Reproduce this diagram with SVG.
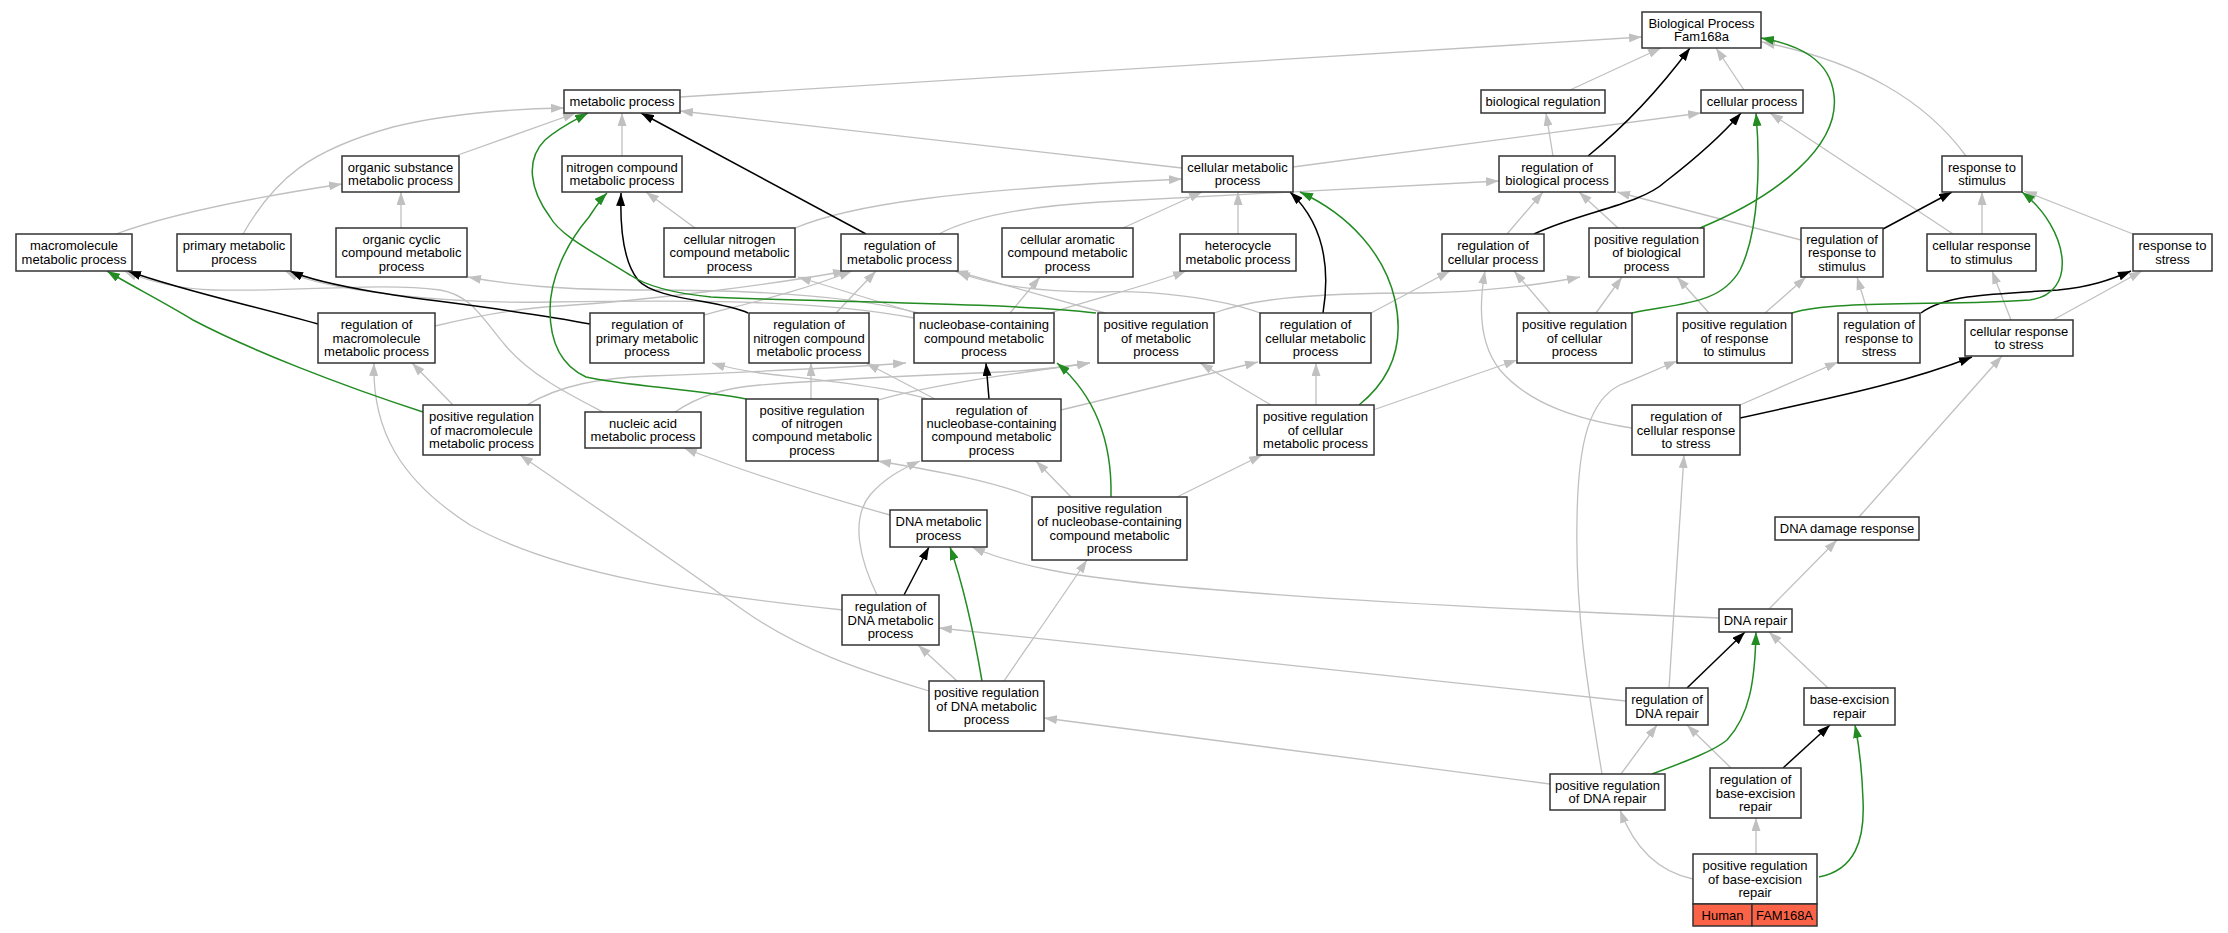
<svg xmlns="http://www.w3.org/2000/svg" width="2228" height="933" viewBox="0 0 2228 933">
<style>
.n rect{fill:#fff;stroke:#333;stroke-width:1.5}
.n rect.c{fill:#fa6347}
text{font-family:"Liberation Sans",Arial,sans-serif;font-size:13px;text-anchor:middle;fill:#000}
.e path{fill:none}
.e .g{stroke:#c0c0c0;stroke-width:1.3;marker-end:url(#ag)}
.e .b{stroke:#000;stroke-width:1.5;marker-end:url(#ab)}
.e .r{stroke:#228b22;stroke-width:1.5;marker-end:url(#ar)}
</style>
<defs>
<marker id="ag" viewBox="0 0 13 9" refX="13" refY="4.5" markerWidth="13" markerHeight="9" orient="auto" markerUnits="userSpaceOnUse"><path d="M0,0 L13,4.5 L0,9 z" fill="#c0c0c0"/></marker>
<marker id="ab" viewBox="0 0 13 9" refX="13" refY="4.5" markerWidth="13" markerHeight="9" orient="auto" markerUnits="userSpaceOnUse"><path d="M0,0 L13,4.5 L0,9 z" fill="#000"/></marker>
<marker id="ar" viewBox="0 0 13 9" refX="13" refY="4.5" markerWidth="13" markerHeight="9" orient="auto" markerUnits="userSpaceOnUse"><path d="M0,0 L13,4.5 L0,9 z" fill="#228b22"/></marker>
</defs>
<rect width="2228" height="933" fill="#fff"/>
<g id="edges" class="e">
<path class="g" d="M680,97 L1642,37"/>
<path class="g" d="M1570,90 L1661,48"/>
<path class="g" d="M1744,90 L1716,48"/>
<path class="g" d="M1966,156 C1925,100 1860,62 1762,42"/>
<path class="g" d="M1182,168 L680,111"/>
<path class="g" d="M1293,167 L1701,113"/>
<path class="g" d="M1553,156 L1546,113"/>
<path class="g" d="M622,156 L622,113"/>
<path class="g" d="M458,155 L576,113"/>
<path class="g" d="M243,234 C275,178 310,150 393,127 C450,113 510,109 564,108"/>
<path class="g" d="M116,234 C170,214 250,198 342,184"/>
<path class="g" d="M401,228 L401,192"/>
<path class="g" d="M695,228 L646,192"/>
<path class="g" d="M795,228 C850,205 950,190 1182,179"/>
<path class="g" d="M939,234 C980,212 1050,205 1100,202 C1250,195 1400,187 1499,181"/>
<path class="g" d="M1123,228 L1202,192"/>
<path class="g" d="M1238,234 L1238,192"/>
<path class="g" d="M1507,234 L1543,192"/>
<path class="g" d="M1618,228 L1579,192"/>
<path class="g" d="M1801,240 L1617,192"/>
<path class="g" d="M1953,234 L1770,113"/>
<path class="g" d="M1982,234 L1982,192"/>
<path class="g" d="M2133,234 L2024,191"/>
<path class="g" d="M2053,320 L2142,271"/>
<path class="g" d="M2011,320 L1992,271"/>
<path class="g" d="M603,412 C570,395 530,375 505,345 C480,315 470,295 440,290 C380,282 300,292 214,290 C180,289 150,282 124,271"/>
<path class="g" d="M435,326 C480,315 520,308 560,306 C650,300 770,285 846,271"/>
<path class="g" d="M704,315 C740,305 790,295 852,271"/>
<path class="g" d="M836,313 L876,271"/>
<path class="g" d="M1105,313 L955,271"/>
<path class="g" d="M1260,313 C1220,298 1150,290 1100,292 C1040,292 990,285 957,272"/>
<path class="g" d="M918,313 C850,295 750,290 650,290 C560,290 510,285 468,277"/>
<path class="g" d="M914,318 C820,300 700,300 550,302 C450,304 330,292 285,271"/>
<path class="g" d="M916,313 L798,277"/>
<path class="g" d="M1010,313 L1040,277"/>
<path class="g" d="M1050,313 C1100,297 1150,285 1186,271"/>
<path class="g" d="M935,399 L866,363"/>
<path class="g" d="M928,399 C880,385 800,378 760,373 C740,370 725,367 712,363"/>
<path class="g" d="M1061,410 L1258,362"/>
<path class="g" d="M811,399 L811,363"/>
<path class="g" d="M878,400 C920,388 980,378 1090,363"/>
<path class="g" d="M675,412 C700,395 730,387 760,385 C850,378 950,374 1001,372 C1040,370 1065,367 1090,363"/>
<path class="g" d="M527,405 C560,385 600,378 650,376 C750,372 840,368 906,363"/>
<path class="g" d="M453,405 L412,363"/>
<path class="g" d="M843,610 C700,595 560,575 470,525 C400,480 372,430 374,363"/>
<path class="g" d="M929,691 C860,670 800,650 743,610 C680,565 600,510 520,455"/>
<path class="g" d="M890,515 C800,490 740,470 684,448"/>
<path class="g" d="M877,595 C860,560 850,520 870,495 C885,478 900,470 920,461"/>
<path class="g" d="M1032,497 C990,480 930,470 878,461"/>
<path class="g" d="M1071,497 L1036,461"/>
<path class="g" d="M1177,497 L1262,455"/>
<path class="g" d="M1271,405 L1200,363"/>
<path class="g" d="M1316,405 L1316,363"/>
<path class="g" d="M1373,410 L1517,360"/>
<path class="g" d="M1371,313 L1450,271"/>
<path class="g" d="M1550,313 L1514,271"/>
<path class="g" d="M1596,313 L1622,277"/>
<path class="g" d="M1214,313 C1250,300 1300,293 1421,293 C1480,292 1540,285 1580,277"/>
<path class="g" d="M1632,428 C1580,420 1530,405 1500,370 C1480,345 1478,310 1485,271"/>
<path class="g" d="M1709,313 L1677,277"/>
<path class="g" d="M1765,313 L1806,277"/>
<path class="g" d="M1868,313 L1857,277"/>
<path class="g" d="M1740,405 L1838,362"/>
<path class="g" d="M1859,517 L2002,356"/>
<path class="g" d="M1769,609 L1837,540"/>
<path class="g" d="M1719,618 C1400,605 1150,590 1050,570 C1010,562 990,555 972,547"/>
<path class="g" d="M957,681 L918,645"/>
<path class="g" d="M1004,681 C1025,650 1050,615 1087,560"/>
<path class="g" d="M1669,688 L1684,455"/>
<path class="g" d="M1626,701 L939,628"/>
<path class="g" d="M1550,784 L1044,718"/>
<path class="g" d="M1602,774 C1590,700 1575,620 1577,520 C1578,440 1590,400 1620,385 C1640,377 1660,368 1677,361"/>
<path class="g" d="M1621,774 L1657,725"/>
<path class="g" d="M1828,688 L1769,632"/>
<path class="g" d="M1731,768 L1687,725"/>
<path class="g" d="M1756,854 L1756,818"/>
<path class="g" d="M1693,879 C1660,872 1635,850 1620,810"/>
<path class="b" d="M1588,156 C1620,130 1655,95 1690,48"/>
<path class="b" d="M866,234 L641,113"/>
<path class="b" d="M1534,234 C1580,212 1640,205 1665,182 C1700,155 1722,135 1741,113"/>
<path class="b" d="M1883,229 L1952,192"/>
<path class="b" d="M1921,313 C1945,295 1990,294 2058,290 C2090,287 2110,280 2131,271"/>
<path class="b" d="M318,324 C250,305 180,290 128,271"/>
<path class="b" d="M590,324 C520,310 420,300 375,292 C340,286 310,280 290,271"/>
<path class="b" d="M748,313 C720,300 655,300 638,280 C622,260 620,225 621,193"/>
<path class="b" d="M989,399 L986,363"/>
<path class="b" d="M1323,313 C1330,270 1325,225 1290,192"/>
<path class="b" d="M1740,418 C1820,400 1900,385 1972,357"/>
<path class="b" d="M904,595 L929,547"/>
<path class="b" d="M1687,688 L1745,632"/>
<path class="b" d="M1783,768 L1830,725"/>
<path class="r" d="M1700,228 C1780,195 1840,145 1834,95 C1830,60 1800,45 1761,38"/>
<path class="r" d="M1792,313 C1830,300 1950,306 2030,300 C2078,294 2070,230 2022,192"/>
<path class="r" d="M423,412 C340,385 250,350 193,320 C160,300 130,285 107,271"/>
<path class="r" d="M1096,313 C1000,302 800,302 711,297 C670,293 645,285 630,275 C590,250 560,235 550,217 C530,190 525,160 545,140 C560,127 575,120 588,113"/>
<path class="r" d="M746,399 C700,390 620,385 586,377 C560,365 550,340 550,310 C550,280 565,245 589,217 C595,208 600,200 607,193"/>
<path class="r" d="M1111,497 C1112,450 1100,400 1057,363"/>
<path class="r" d="M1359,405 C1390,380 1405,345 1395,300 C1385,255 1350,215 1300,192"/>
<path class="r" d="M1632,313 C1680,303 1720,305 1740,270 C1760,230 1760,160 1756,113"/>
<path class="r" d="M982,681 C975,640 965,590 950,547"/>
<path class="r" d="M1652,774 C1690,760 1715,750 1727,740 C1750,715 1755,680 1756,632"/>
<path class="r" d="M1819,877 C1855,870 1865,840 1863,800 C1862,770 1860,750 1855,725"/>
</g>
<g id="BP" class="n"><rect x="1642" y="12" width="119" height="36"/><text><tspan x="1701.5" y="27.9">Biological Process</tspan><tspan x="1701.5" y="41.3">Fam168a</tspan></text></g>
<g id="MP" class="n"><rect x="564" y="90" width="116" height="23"/><text x="622" y="106.1">metabolic process</text></g>
<g id="BR" class="n"><rect x="1481" y="90" width="124" height="23"/><text x="1543" y="106.1">biological regulation</text></g>
<g id="CP" class="n"><rect x="1701" y="90" width="102" height="23"/><text x="1752" y="106.1">cellular process</text></g>
<g id="OSMP" class="n"><rect x="342" y="156" width="117" height="36"/><text><tspan x="400.5" y="171.9">organic substance</tspan><tspan x="400.5" y="185.3">metabolic process</tspan></text></g>
<g id="NCMP" class="n"><rect x="562" y="156" width="120" height="36"/><text><tspan x="622" y="171.9">nitrogen compound</tspan><tspan x="622" y="185.3">metabolic process</tspan></text></g>
<g id="CMP" class="n"><rect x="1182" y="156" width="111" height="36"/><text><tspan x="1237.5" y="171.9">cellular metabolic</tspan><tspan x="1237.5" y="185.3">process</tspan></text></g>
<g id="RBP" class="n"><rect x="1499" y="156" width="116" height="36"/><text><tspan x="1557" y="171.9">regulation of</tspan><tspan x="1557" y="185.3">biological process</tspan></text></g>
<g id="RS" class="n"><rect x="1942" y="156" width="80" height="36"/><text><tspan x="1982" y="171.9">response to</tspan><tspan x="1982" y="185.3">stimulus</tspan></text></g>
<g id="MMP" class="n"><rect x="16" y="234" width="116" height="37"/><text><tspan x="74" y="250.4">macromolecule</tspan><tspan x="74" y="263.8">metabolic process</tspan></text></g>
<g id="PMP" class="n"><rect x="177" y="234" width="114" height="37"/><text><tspan x="234" y="250.4">primary metabolic</tspan><tspan x="234" y="263.8">process</tspan></text></g>
<g id="OCCMP" class="n"><rect x="336" y="228" width="131" height="49"/><text><tspan x="401.5" y="243.7">organic cyclic</tspan><tspan x="401.5" y="257.1">compound metabolic</tspan><tspan x="401.5" y="270.5">process</tspan></text></g>
<g id="CNCMP" class="n"><rect x="664" y="228" width="131" height="49"/><text><tspan x="729.5" y="243.7">cellular nitrogen</tspan><tspan x="729.5" y="257.1">compound metabolic</tspan><tspan x="729.5" y="270.5">process</tspan></text></g>
<g id="RMP" class="n"><rect x="841" y="234" width="117" height="37"/><text><tspan x="899.5" y="250.4">regulation of</tspan><tspan x="899.5" y="263.8">metabolic process</tspan></text></g>
<g id="CACMP" class="n"><rect x="1002" y="228" width="131" height="49"/><text><tspan x="1067.5" y="243.7">cellular aromatic</tspan><tspan x="1067.5" y="257.1">compound metabolic</tspan><tspan x="1067.5" y="270.5">process</tspan></text></g>
<g id="HMP" class="n"><rect x="1180" y="234" width="116" height="37"/><text><tspan x="1238" y="250.4">heterocycle</tspan><tspan x="1238" y="263.8">metabolic process</tspan></text></g>
<g id="RCP" class="n"><rect x="1442" y="234" width="102" height="37"/><text><tspan x="1493" y="250.4">regulation of</tspan><tspan x="1493" y="263.8">cellular process</tspan></text></g>
<g id="PRBP" class="n"><rect x="1589" y="228" width="115" height="49"/><text><tspan x="1646.5" y="243.7">positive regulation</tspan><tspan x="1646.5" y="257.1">of biological</tspan><tspan x="1646.5" y="270.5">process</tspan></text></g>
<g id="RRS" class="n"><rect x="1801" y="228" width="82" height="49"/><text><tspan x="1842" y="243.7">regulation of</tspan><tspan x="1842" y="257.1">response to</tspan><tspan x="1842" y="270.5">stimulus</tspan></text></g>
<g id="CRS" class="n"><rect x="1927" y="234" width="109" height="37"/><text><tspan x="1981.5" y="250.4">cellular response</tspan><tspan x="1981.5" y="263.8">to stimulus</tspan></text></g>
<g id="RSTR" class="n"><rect x="2133" y="234" width="79" height="37"/><text><tspan x="2172.5" y="250.4">response to</tspan><tspan x="2172.5" y="263.8">stress</tspan></text></g>
<g id="RMMP" class="n"><rect x="318" y="313" width="117" height="50"/><text><tspan x="376.5" y="329.2">regulation of</tspan><tspan x="376.5" y="342.6">macromolecule</tspan><tspan x="376.5" y="356">metabolic process</tspan></text></g>
<g id="RPMP" class="n"><rect x="590" y="313" width="114" height="50"/><text><tspan x="647" y="329.2">regulation of</tspan><tspan x="647" y="342.6">primary metabolic</tspan><tspan x="647" y="356">process</tspan></text></g>
<g id="RNCMP" class="n"><rect x="749" y="313" width="120" height="50"/><text><tspan x="809" y="329.2">regulation of</tspan><tspan x="809" y="342.6">nitrogen compound</tspan><tspan x="809" y="356">metabolic process</tspan></text></g>
<g id="NBCMP" class="n"><rect x="914" y="313" width="140" height="50"/><text><tspan x="984" y="329.2">nucleobase-containing</tspan><tspan x="984" y="342.6">compound metabolic</tspan><tspan x="984" y="356">process</tspan></text></g>
<g id="PRMP" class="n"><rect x="1098" y="313" width="116" height="50"/><text><tspan x="1156" y="329.2">positive regulation</tspan><tspan x="1156" y="342.6">of metabolic</tspan><tspan x="1156" y="356">process</tspan></text></g>
<g id="RCMP" class="n"><rect x="1260" y="313" width="111" height="50"/><text><tspan x="1315.5" y="329.2">regulation of</tspan><tspan x="1315.5" y="342.6">cellular metabolic</tspan><tspan x="1315.5" y="356">process</tspan></text></g>
<g id="PRCP" class="n"><rect x="1517" y="313" width="115" height="50"/><text><tspan x="1574.5" y="329.2">positive regulation</tspan><tspan x="1574.5" y="342.6">of cellular</tspan><tspan x="1574.5" y="356">process</tspan></text></g>
<g id="PRRS" class="n"><rect x="1677" y="313" width="115" height="50"/><text><tspan x="1734.5" y="329.2">positive regulation</tspan><tspan x="1734.5" y="342.6">of response</tspan><tspan x="1734.5" y="356">to stimulus</tspan></text></g>
<g id="RRSTR" class="n"><rect x="1838" y="313" width="82" height="50"/><text><tspan x="1879" y="329.2">regulation of</tspan><tspan x="1879" y="342.6">response to</tspan><tspan x="1879" y="356">stress</tspan></text></g>
<g id="CRSTR" class="n"><rect x="1965" y="320" width="108" height="36"/><text><tspan x="2019" y="335.9">cellular response</tspan><tspan x="2019" y="349.3">to stress</tspan></text></g>
<g id="PRMMP" class="n"><rect x="423" y="405" width="117" height="50"/><text><tspan x="481.5" y="421.2">positive regulation</tspan><tspan x="481.5" y="434.6">of macromolecule</tspan><tspan x="481.5" y="448">metabolic process</tspan></text></g>
<g id="NAMP" class="n"><rect x="585" y="412" width="116" height="36"/><text><tspan x="643" y="427.9">nucleic acid</tspan><tspan x="643" y="441.3">metabolic process</tspan></text></g>
<g id="PRNCMP" class="n"><rect x="746" y="399" width="132" height="62"/><text><tspan x="812" y="414.5">positive regulation</tspan><tspan x="812" y="427.9">of nitrogen</tspan><tspan x="812" y="441.3">compound metabolic</tspan><tspan x="812" y="454.7">process</tspan></text></g>
<g id="RNBCMP" class="n"><rect x="922" y="399" width="139" height="62"/><text><tspan x="991.5" y="414.5">regulation of</tspan><tspan x="991.5" y="427.9">nucleobase-containing</tspan><tspan x="991.5" y="441.3">compound metabolic</tspan><tspan x="991.5" y="454.7">process</tspan></text></g>
<g id="PRCMP" class="n"><rect x="1257" y="405" width="117" height="50"/><text><tspan x="1315.5" y="421.2">positive regulation</tspan><tspan x="1315.5" y="434.6">of cellular</tspan><tspan x="1315.5" y="448">metabolic process</tspan></text></g>
<g id="RCRSTR" class="n"><rect x="1632" y="405" width="108" height="50"/><text><tspan x="1686" y="421.2">regulation of</tspan><tspan x="1686" y="434.6">cellular response</tspan><tspan x="1686" y="448">to stress</tspan></text></g>
<g id="DNAMP" class="n"><rect x="890" y="510" width="97" height="37"/><text><tspan x="938.5" y="526.4">DNA metabolic</tspan><tspan x="938.5" y="539.8">process</tspan></text></g>
<g id="PRNBCMP" class="n"><rect x="1032" y="497" width="155" height="63"/><text><tspan x="1109.5" y="513">positive regulation</tspan><tspan x="1109.5" y="526.4">of nucleobase-containing</tspan><tspan x="1109.5" y="539.8">compound metabolic</tspan><tspan x="1109.5" y="553.2">process</tspan></text></g>
<g id="DDR" class="n"><rect x="1775" y="517" width="144" height="23"/><text x="1847" y="533.1">DNA damage response</text></g>
<g id="RDNAMP" class="n"><rect x="842" y="595" width="97" height="50"/><text><tspan x="890.5" y="611.2">regulation of</tspan><tspan x="890.5" y="624.6">DNA metabolic</tspan><tspan x="890.5" y="638">process</tspan></text></g>
<g id="DNAR" class="n"><rect x="1719" y="609" width="73" height="23"/><text x="1755.5" y="625.1">DNA repair</text></g>
<g id="PRDNAMP" class="n"><rect x="929" y="681" width="115" height="50"/><text><tspan x="986.5" y="697.2">positive regulation</tspan><tspan x="986.5" y="710.6">of DNA metabolic</tspan><tspan x="986.5" y="724">process</tspan></text></g>
<g id="RDNAR" class="n"><rect x="1626" y="688" width="82" height="37"/><text><tspan x="1667" y="704.4">regulation of</tspan><tspan x="1667" y="717.8">DNA repair</tspan></text></g>
<g id="BER" class="n"><rect x="1804" y="688" width="91" height="37"/><text><tspan x="1849.5" y="704.4">base-excision</tspan><tspan x="1849.5" y="717.8">repair</tspan></text></g>
<g id="PRDNAR" class="n"><rect x="1550" y="774" width="115" height="36"/><text><tspan x="1607.5" y="789.9">positive regulation</tspan><tspan x="1607.5" y="803.3">of DNA repair</tspan></text></g>
<g id="RBER" class="n"><rect x="1710" y="768" width="91" height="50"/><text><tspan x="1755.5" y="784.2">regulation of</tspan><tspan x="1755.5" y="797.6">base-excision</tspan><tspan x="1755.5" y="811">repair</tspan></text></g>
<g id="PRBER" class="n"><rect x="1693" y="854" width="124" height="50"/><text><tspan x="1755" y="870.2">positive regulation</tspan><tspan x="1755" y="883.6">of base-excision</tspan><tspan x="1755" y="897">repair</tspan></text><rect class="c" x="1693" y="904" width="59" height="22"/><rect class="c" x="1752" y="904" width="65" height="22"/><text x="1722.5" y="919.6">Human</text><text x="1784.5" y="919.6">FAM168A</text></g>
</svg>
